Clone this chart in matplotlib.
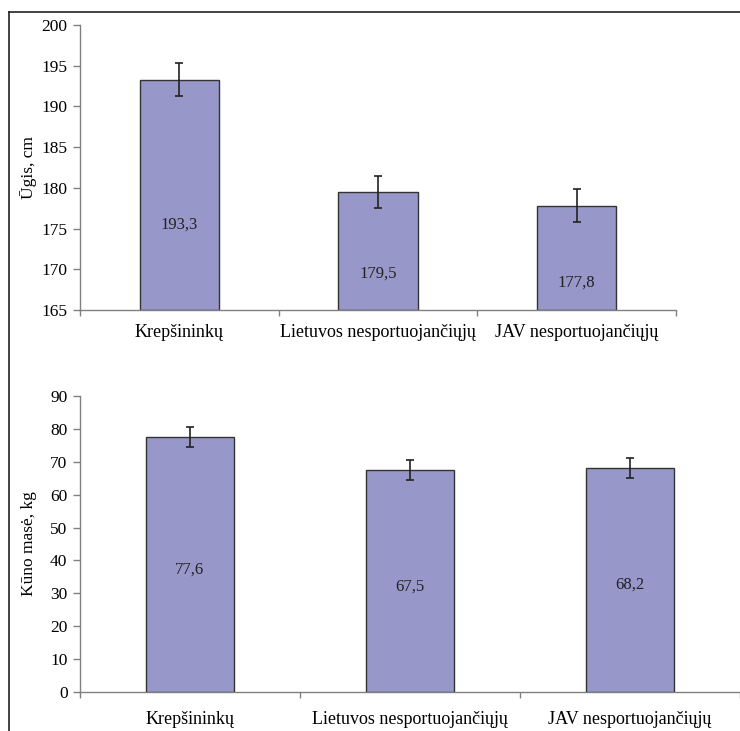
import matplotlib
matplotlib.use("Agg")
import matplotlib.pyplot as plt
from matplotlib.lines import Line2D
import numpy as np

plt.rcParams['font.family'] = ['Liberation Serif', 'DejaVu Serif']

groups = ["Krepšininkų", "Lietuvos nesportuojančiųjų", "JAV nesportuojančiųjų"]
height_cm = [193.3, 179.5, 177.8]
height_err = [2.0, 2.0, 2.0]
mass_kg = [77.6, 67.5, 68.2]
mass_err = [3.0, 3.0, 3.0]
height_labels = ["193,3", "179,5", "177,8"]
mass_labels = ["77,6", "67,5", "68,2"]

bar_color = "#9797CA"
spine_color = "#808080"
fs_tick = 12.5
fs_cat = 13
fs_val = 12

FIG_W, FIG_H = 740, 731
fig = plt.figure(figsize=(FIG_W / 100, FIG_H / 100), dpi=100)

def style_axes(ax, ylim, yticks, ylabel, cat_pad, width_px):
    n = len(groups)
    ax.set_xlim(-0.5, n - 0.5)
    ax.set_ylim(*ylim)
    ax.set_yticks(yticks)
    ax.set_ylabel(ylabel, fontsize=fs_tick)
    ax.yaxis.set_label_coords((37 - 80) / width_px, 0.5)
    for s in ["top", "right"]:
        ax.spines[s].set_visible(False)
    for s in ["left", "bottom"]:
        ax.spines[s].set_color(spine_color)
        ax.spines[s].set_linewidth(1.0)
    ax.tick_params(axis="y", direction="out", length=5, width=1,
                   color=spine_color, labelsize=fs_tick, pad=4)
    # category labels at centers, tick marks at boundaries
    ax.set_xticks(np.arange(n))
    ax.set_xticklabels(groups, fontsize=fs_cat)
    ax.tick_params(axis="x", which="major", length=0, pad=cat_pad)
    ax.set_xticks(np.arange(n + 1) - 0.5, minor=True)
    ax.tick_params(axis="x", which="minor", direction="out", length=4,
                   width=1, color=spine_color)

x = np.arange(len(groups))

# upper panel: height
ax1 = fig.add_axes([80 / FIG_W, 1 - 310 / FIG_H, 596 / FIG_W, 285 / FIG_H])
ax1.bar(x, [v - 165 for v in height_cm], bottom=165, width=0.4,
        color=bar_color, edgecolor="#333333", linewidth=1.0, zorder=2)
ax1.errorbar(x, height_cm, yerr=height_err, fmt="none", ecolor="#222222",
             elinewidth=1.2, capsize=3.2, capthick=1.2, zorder=3)
style_axes(ax1, (165, 200), np.arange(165, 201, 5), "Ūgis, cm", 10, 596)
h_label_pos = [175.5, 169.5, 168.4]
for xi, yl, t in zip(x, h_label_pos, height_labels):
    ax1.text(xi, yl, t, ha="center", va="center", fontsize=fs_val,
             color="#222222")

# lower panel: mass
ax2 = fig.add_axes([80 / FIG_W, 1 - 692 / FIG_H, 660 / FIG_W, 296 / FIG_H])
ax2.bar(x, mass_kg, width=0.4, color=bar_color, edgecolor="#333333",
        linewidth=1.0, zorder=2)
ax2.errorbar(x, mass_kg, yerr=mass_err, fmt="none", ecolor="#222222",
             elinewidth=1.2, capsize=3.2, capthick=1.2, zorder=3)
style_axes(ax2, (0, 90), np.arange(0, 91, 10), "Kūno masė, kg", 14, 660)
for xi, v, t in zip(x, mass_kg, mass_labels):
    ax2.text(xi, v / 2 - 1.6, t, ha="center", va="center", fontsize=fs_val,
             color="#222222")

# outer frame (top and left edges)
fig.add_artist(Line2D([9 / FIG_W, 1.0], [1 - 12 / FIG_H, 1 - 12 / FIG_H],
                      transform=fig.transFigure, color="#222222", lw=1.2))
fig.add_artist(Line2D([9 / FIG_W, 9 / FIG_W], [1 - 12 / FIG_H, 0.0],
                      transform=fig.transFigure, color="#222222", lw=1.2))

fig.savefig("out.png", dpi=100, facecolor="white")
